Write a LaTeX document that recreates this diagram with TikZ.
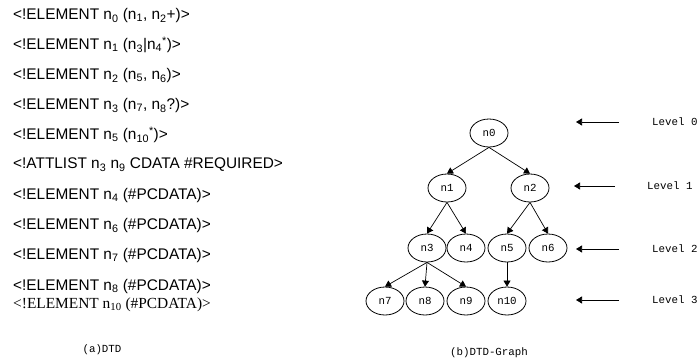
\documentclass[tikz,border=0pt]{standalone}
\usepackage{fontspec}
\setmainfont{Liberation Sans}
\setmonofont{Liberation Mono}
\newfontfamily\timesfont{Liberation Serif}
\usetikzlibrary{shapes.geometric,arrows.meta}

\begin{document}
\begin{tikzpicture}[x=1pt, y=-1pt,
  dtd/.style={anchor=base west, inner sep=0pt, font=\fontsize{15.4}{18}\selectfont},
  nd/.style={ellipse, draw, line width=0.8pt, minimum width=38pt, minimum height=28pt, inner sep=0pt, font=\ttfamily\fontsize{10.8}{12}\selectfont},
  lvl/.style={anchor=west, inner sep=0pt, font=\ttfamily\fontsize{10.8}{12}\selectfont},
  subcap/.style={inner sep=0pt, font=\ttfamily\fontsize{10.8}{12}\selectfont},
  arr/.style={-{Triangle[length=6pt,width=7pt]}, line width=0.7pt}
]
  \useasboundingbox (0,0) rectangle (698,360);

  % (a) the DTD
  \node[dtd] (d0) at (13,19.5) {<!ELEMENT n\textsubscript{0} (n\textsubscript{1}, n\textsubscript{2}+)>};
  \node[dtd] (d1) at (13,49.5) {<!ELEMENT n\textsubscript{1} (n\textsubscript{3}|n\textsubscript{4}\textsuperscript{*})>};
  \node[dtd] (d2) at (13,79.5) {<!ELEMENT n\textsubscript{2} (n\textsubscript{5}, n\textsubscript{6})>};
  \node[dtd] (d3) at (13,109.5) {<!ELEMENT n\textsubscript{3} (n\textsubscript{7}, n\textsubscript{8}?)>};
  \node[dtd] (d5) at (13,139.5) {<!ELEMENT n\textsubscript{5} (n\textsubscript{10}\textsuperscript{*})>};
  \node[dtd] (da) at (13,168.5) {<!ATTLIST n\textsubscript{3} n\textsubscript{9} CDATA \#REQUIRED>};
  \node[dtd] (d4) at (13,199.5) {<!ELEMENT n\textsubscript{4} (\#PCDATA)>};
  \node[dtd] (d6) at (13,229.5) {<!ELEMENT n\textsubscript{6} (\#PCDATA)>};
  \node[dtd] (d7) at (13,259.5) {<!ELEMENT n\textsubscript{7} (\#PCDATA)>};
  \node[dtd] (d8) at (13,290) {<!ELEMENT n\textsubscript{8} (\#PCDATA)>};
  \node[dtd, font=\timesfont\fontsize{15.4}{18}\selectfont] (d10) at (13,308) {<!ELEMENT n\textsubscript{10} (\#PCDATA)>};
  \node[subcap] (capa) at (102,350) {(a)DTD};

  % (b) the DTD-graph
  \node[nd] (n0) at (489,133) {n0};
  \node[nd] (n1) at (447,188) {n1};
  \node[nd] (n2) at (530,188) {n2};
  \node[nd] (n3) at (427,248) {n3};
  \node[nd] (n4) at (466,248) {n4};
  \node[nd] (n5) at (507,248) {n5};
  \node[nd] (n6) at (548,248) {n6};
  \node[nd] (n7) at (385,301) {n7};
  \node[nd] (n8) at (425,301) {n8};
  \node[nd] (n9) at (466,301) {n9};
  \node[nd] (n10) at (507,301) {n10};
  \draw[arr] (n0.south) -- (n1.north);
  \draw[arr] (n0.south) -- (n2.north);
  \draw[arr] (n1.south) -- (n3.north);
  \draw[arr] (n1.south) -- (n4.north);
  \draw[arr] (n2.south) -- (n5.north);
  \draw[arr] (n2.south) -- (n6.north);
  \draw[arr] (n3.south) -- (n7.north);
  \draw[arr] (n3.south) -- (n8.north);
  \draw[arr] (n3.south) -- (n9.north);
  \draw[arr] (n5.south) -- (n10.north);
  \node[subcap] (capb) at (489,353) {(b)DTD-Graph};

  % levels
  \node[lvl] (lv0) at (652,122) {Level 0};
  \node[lvl] (lv1) at (647,186) {Level 1};
  \node[lvl] (lv2) at (652,249) {Level 2};
  \node[lvl] (lv3) at (652,300) {Level 3};
  \coordinate (t0) at (576,122);
  \coordinate (t1) at (574,186);
  \coordinate (t2) at (576,249);
  \coordinate (t3) at (576,300);
  \draw[arr, shorten <=33pt] (lv0.west) -- (t0);
  \draw[arr, shorten <=32pt] (lv1.west) -- (t1);
  \draw[arr, shorten <=33pt] (lv2.west) -- (t2);
  \draw[arr, shorten <=33pt] (lv3.west) -- (t3);
\end{tikzpicture}
\end{document}
